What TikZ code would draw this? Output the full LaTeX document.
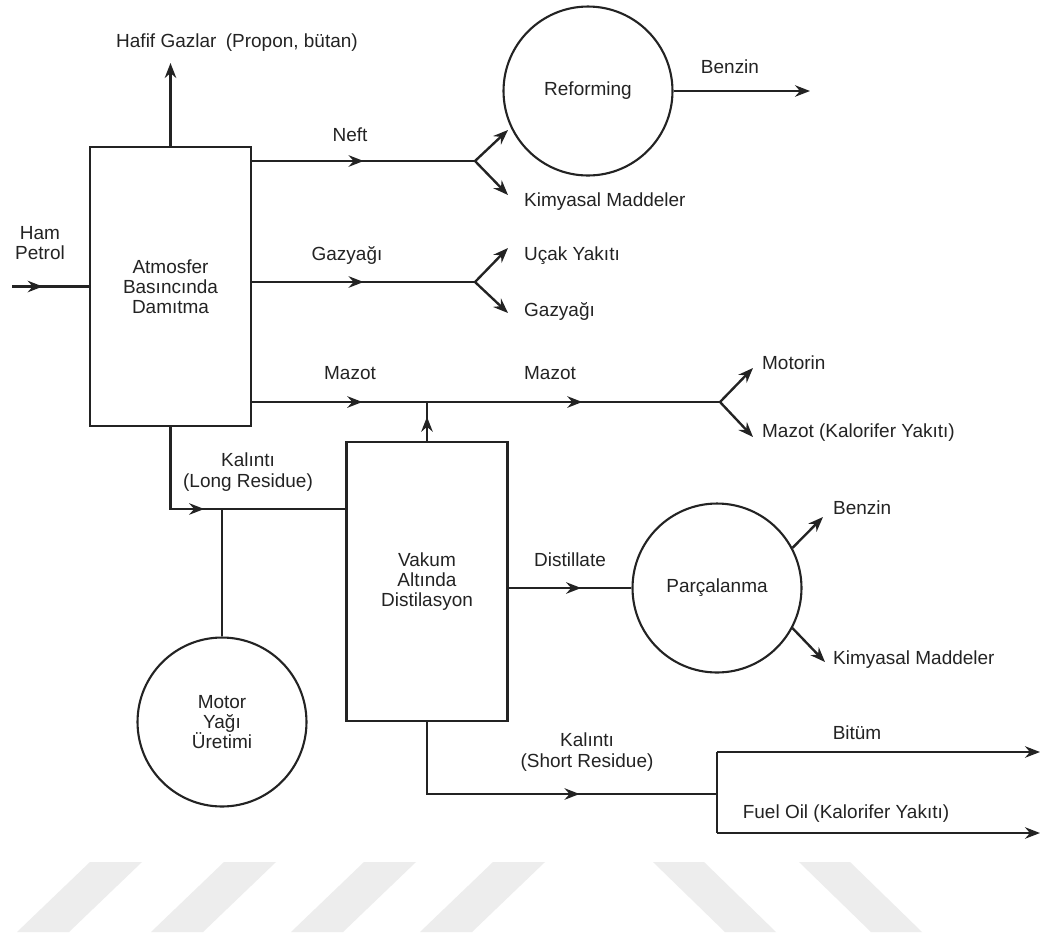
\documentclass[tikz,border=0pt]{standalone}
\usepackage{fontspec}
\setmainfont{Liberation Sans}
\usetikzlibrary{arrows.meta,decorations.markings}
\definecolor{ink}{RGB}{35,35,35}
\definecolor{wmark}{RGB}{237,237,237}

\tikzset{
  unit/.style={draw=ink, line width=1.4pt, minimum width=3.22cm, minimum height=5.58cm, align=center, inner sep=0pt},
  proc/.style={draw=ink, line width=1.2pt, circle, minimum size=3.38cm, align=center, inner sep=0pt},
  lbl/.style={text=ink, align=center, inner sep=0pt},
  flow/.style={postaction={decorate}, decoration={markings, mark=at position #1 with {\arrow{>}}}},
  flow/.default=0.5
}

\begin{document}
\begin{tikzpicture}[x=0.02cm, y=-0.02cm, ink, line width=1.35pt,
    >={Stealth[length=3mm,width=2.3mm,inset=1mm]},
    font=\fontsize{10.8}{11.5}\selectfont]
    \path[fill=white] (0,0) rectangle (1042,938);
    \useasboundingbox (0,0) rectangle (1042,938);

    %% Watermark stripes
    \foreach \s in {90,224,364,493}
        \fill[wmark] (\s,862) -- ++(52,0) -- ++(-73,70) -- ++(-52,0) -- cycle;
    \foreach \s in {653,799}
        \fill[wmark] (\s,862) -- ++(51,0) -- ++(72,70) -- ++(-51,0) -- cycle;

    %% Units
    \node[unit] (atm) at (170.5,286.5) {Atmosfer\\Basıncında\\Damıtma};
    \node[unit] (vak) at (427,581.5) {Vakum\\Altında\\Distilasyon};
    \node[proc] (ref) at (588,91) {Reforming};
    \node[proc] (parc) at (717,588) {Parçalanma};
    \node[proc] (mot) at (222,722) {Motor\\Yağı\\Üretimi};

    %% Junctions and free ends
    \coordinate (in) at (12,286.5);
    \coordinate (gas) at (170.5,63);
    \coordinate (nf) at (475,161);
    \coordinate (nfA) at (508,130);
    \coordinate (nfB) at (508,195);
    \coordinate (gz) at (475,282);
    \coordinate (gzA) at (508,248);
    \coordinate (gzB) at (508,313);
    \coordinate (mz) at (720,402);
    \coordinate (mzA) at (753,368);
    \coordinate (mzB) at (753,437);
    \coordinate (mzj) at (vak.north |- mz);
    \coordinate (kal) at (222,509);
    \coordinate (srs) at (717,794);
    \coordinate (bt) at (717,752);
    \coordinate (btE) at (1040,752);
    \coordinate (fo) at (717,833);
    \coordinate (foE) at (1040,833);
    \coordinate (bz) at (810,91);
    \coordinate (bz2) at (823,517);
    \coordinate (km2) at (825,662);

    %% Atmospheric column streams
    \draw[flow=0.4] (in) -- (atm);
    \draw[->] (atm.north) -- (gas);
    \draw[flow] (atm.east |- nf) -- (nf);
    \draw[->] (nf) -- (nfA);
    \draw[->] (nf) -- (nfB);
    \draw[flow] (atm.east |- gz) -- (gz);
    \draw[->] (gz) -- (gzA);
    \draw[->] (gz) -- (gzB);
    \draw[flow=0.63] (atm.east |- mz) -- (mzj);
    \draw[flow=0.53] (mzj) -- (mz);
    \draw[->] (mz) -- (mzA);
    \draw[->] (mz) -- (mzB);
    \draw[->] (ref.east) -- (bz);

    %% Residue to vacuum unit
    \draw[flow=0.45] (atm.south) |- (vak.west |- kal);
    \draw (mot.north) -- (kal);
    \draw[flow=0.62] (vak.north) -- (mzj);
    \draw[flow=0.59] (vak.east |- parc) -- (parc.west);
    \draw[->] (parc.28) -- (bz2);
    \draw[->] (parc.-28) -- (km2);
    \draw[flow=0.62] (vak.south) |- (srs);
    \draw (bt) -- (fo);
    \draw[->] (bt) -- (btE);
    \draw[->] (fo) -- (foE);

    %% Labels
    \node[lbl] (lhg) at (237,43) {Hafif Gazlar\enspace(Propon, bütan)};
    \node[lbl] (lhp) at (40,243) {Ham\\Petrol};
    \node[lbl] (lnf) at (350,135) {Neft};
    \node[lbl] (lgz) at (347,255) {Gazyağı};
    \node[lbl] (lmz1) at (350,373) {Mazot};
    \node[lbl] (lmz2) at (550,373) {Mazot};
    \node[lbl] (lbz1) at (730,67) {Benzin};
    \node[lbl, anchor=west] (lkm1) at (523,202) {Kimyasal Maddeler};
    \node[lbl, anchor=west] (luy) at (523,256) {Uçak Yakıtı};
    \node[lbl, anchor=west] (lgz2) at (523,311) {Gazyağı};
    \node[lbl, anchor=west] (lmo) at (761,363) {Motorin};
    \node[lbl, anchor=west] (lmk) at (761,433) {Mazot (Kalorifer Yakıtı)};
    \node[lbl] (llr) at (248,472) {Kalıntı\\(Long Residue)};
    \node[lbl] (lds) at (570,560) {Distillate};
    \node[lbl, anchor=west] (lbz2) at (832,508) {Benzin};
    \node[lbl, anchor=west] (lkm2) at (832,660) {Kimyasal Maddeler};
    \node[lbl] (lsr) at (587,752) {Kalıntı\\(Short Residue)};
    \node[lbl] (lbt) at (857,733) {Bitüm};
    \node[lbl] (lfo) at (846,814) {Fuel Oil (Kalorifer Yakıtı)};
\end{tikzpicture}
\end{document}
